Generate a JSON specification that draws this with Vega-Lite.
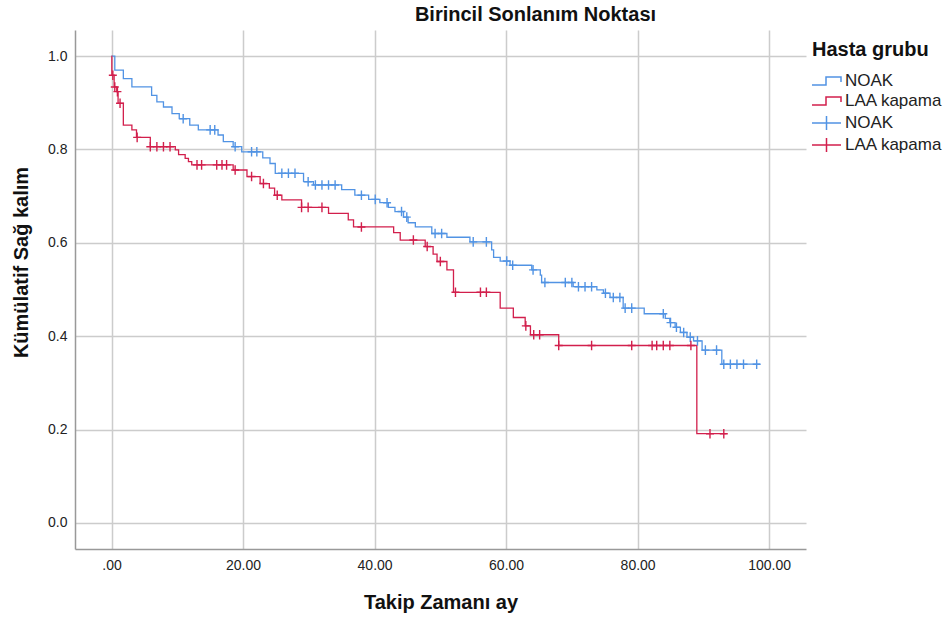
{
  "$schema": "https://vega.github.io/schema/vega-lite/v6.json",
  "width": 731,
  "height": 519,
  "autosize": {"type": "none"},
  "padding": {"left": 75, "top": 30, "right": 137, "bottom": 68},
  "config": {
    "font": "Liberation Sans",
    "view": {"stroke": null},
    "axis": {
      "gridColor": "#cccccc",
      "gridWidth": 1.5,
      "domainColor": "#999999",
      "domainWidth": 1.5,
      "tickSize": 0,
      "labelFontSize": 14,
      "labelColor": "#222222",
      "titleFontSize": 20,
      "titleFontWeight": "bold",
      "titleColor": "#111111"
    },
    "legend": {"padding": 0}
  },
  "title": {
    "text": "Birincil Sonlanım Noktası",
    "fontSize": 20,
    "fontWeight": "bold",
    "color": "#111111",
    "anchor": "middle",
    "dx": 95,
    "offset": 5
  },
  "datasets": {
    "steps": [
      {"g": "NOAK", "t": 0, "s": 1.0},
      {"g": "NOAK", "t": 0.5, "s": 0.970},
      {"g": "NOAK", "t": 1.8, "s": 0.952},
      {"g": "NOAK", "t": 3.1, "s": 0.934},
      {"g": "NOAK", "t": 6.1, "s": 0.916},
      {"g": "NOAK", "t": 6.9, "s": 0.902},
      {"g": "NOAK", "t": 7.9, "s": 0.891},
      {"g": "NOAK", "t": 9.2, "s": 0.877},
      {"g": "NOAK", "t": 10.3, "s": 0.866},
      {"g": "NOAK", "t": 11.9, "s": 0.852},
      {"g": "NOAK", "t": 13.2, "s": 0.842},
      {"g": "NOAK", "t": 16.2, "s": 0.831},
      {"g": "NOAK", "t": 17.0, "s": 0.817},
      {"g": "NOAK", "t": 18.5, "s": 0.806},
      {"g": "NOAK", "t": 19.8, "s": 0.795},
      {"g": "NOAK", "t": 23.0, "s": 0.782},
      {"g": "NOAK", "t": 24.1, "s": 0.770},
      {"g": "NOAK", "t": 24.9, "s": 0.749},
      {"g": "NOAK", "t": 29.2, "s": 0.731},
      {"g": "NOAK", "t": 30.7, "s": 0.724},
      {"g": "NOAK", "t": 35.0, "s": 0.714},
      {"g": "NOAK", "t": 37.0, "s": 0.702},
      {"g": "NOAK", "t": 39.1, "s": 0.693},
      {"g": "NOAK", "t": 40.8, "s": 0.686},
      {"g": "NOAK", "t": 42.1, "s": 0.676},
      {"g": "NOAK", "t": 43.1, "s": 0.667},
      {"g": "NOAK", "t": 44.4, "s": 0.655},
      {"g": "NOAK", "t": 45.1, "s": 0.643},
      {"g": "NOAK", "t": 46.2, "s": 0.634},
      {"g": "NOAK", "t": 48.7, "s": 0.620},
      {"g": "NOAK", "t": 51.0, "s": 0.612},
      {"g": "NOAK", "t": 54.5, "s": 0.602},
      {"g": "NOAK", "t": 57.8, "s": 0.585},
      {"g": "NOAK", "t": 58.1, "s": 0.569},
      {"g": "NOAK", "t": 59.1, "s": 0.561},
      {"g": "NOAK", "t": 60.6, "s": 0.552},
      {"g": "NOAK", "t": 63.9, "s": 0.542},
      {"g": "NOAK", "t": 65.2, "s": 0.531},
      {"g": "NOAK", "t": 65.4, "s": 0.515},
      {"g": "NOAK", "t": 70.2, "s": 0.506},
      {"g": "NOAK", "t": 73.8, "s": 0.499},
      {"g": "NOAK", "t": 74.8, "s": 0.492},
      {"g": "NOAK", "t": 75.8, "s": 0.483},
      {"g": "NOAK", "t": 77.8, "s": 0.460},
      {"g": "NOAK", "t": 81.0, "s": 0.448},
      {"g": "NOAK", "t": 84.2, "s": 0.438},
      {"g": "NOAK", "t": 84.9, "s": 0.429},
      {"g": "NOAK", "t": 85.7, "s": 0.419},
      {"g": "NOAK", "t": 86.5, "s": 0.408},
      {"g": "NOAK", "t": 87.5, "s": 0.398},
      {"g": "NOAK", "t": 88.5, "s": 0.390},
      {"g": "NOAK", "t": 89.8, "s": 0.370},
      {"g": "NOAK", "t": 92.8, "s": 0.340},
      {"g": "NOAK", "t": 98.6, "s": 0.340},
      {"g": "LAA kapama", "t": 0, "s": 1.0},
      {"g": "LAA kapama", "t": 0.05, "s": 0.959},
      {"g": "LAA kapama", "t": 0.4, "s": 0.934},
      {"g": "LAA kapama", "t": 0.8, "s": 0.924},
      {"g": "LAA kapama", "t": 1.0, "s": 0.899},
      {"g": "LAA kapama", "t": 1.8, "s": 0.852},
      {"g": "LAA kapama", "t": 3.1, "s": 0.842},
      {"g": "LAA kapama", "t": 3.8, "s": 0.826},
      {"g": "LAA kapama", "t": 5.9, "s": 0.806},
      {"g": "LAA kapama", "t": 9.7, "s": 0.799},
      {"g": "LAA kapama", "t": 10.2, "s": 0.789},
      {"g": "LAA kapama", "t": 11.2, "s": 0.781},
      {"g": "LAA kapama", "t": 11.7, "s": 0.774},
      {"g": "LAA kapama", "t": 12.2, "s": 0.767},
      {"g": "LAA kapama", "t": 18.5, "s": 0.756},
      {"g": "LAA kapama", "t": 20.6, "s": 0.742},
      {"g": "LAA kapama", "t": 22.6, "s": 0.727},
      {"g": "LAA kapama", "t": 24.0, "s": 0.717},
      {"g": "LAA kapama", "t": 24.8, "s": 0.702},
      {"g": "LAA kapama", "t": 25.9, "s": 0.692},
      {"g": "LAA kapama", "t": 28.9, "s": 0.676},
      {"g": "LAA kapama", "t": 33.0, "s": 0.663},
      {"g": "LAA kapama", "t": 36.0, "s": 0.649},
      {"g": "LAA kapama", "t": 36.8, "s": 0.634},
      {"g": "LAA kapama", "t": 42.9, "s": 0.622},
      {"g": "LAA kapama", "t": 43.9, "s": 0.606},
      {"g": "LAA kapama", "t": 47.7, "s": 0.592},
      {"g": "LAA kapama", "t": 48.9, "s": 0.576},
      {"g": "LAA kapama", "t": 49.5, "s": 0.560},
      {"g": "LAA kapama", "t": 51.0, "s": 0.542},
      {"g": "LAA kapama", "t": 52.0, "s": 0.494},
      {"g": "LAA kapama", "t": 59.1, "s": 0.460},
      {"g": "LAA kapama", "t": 61.1, "s": 0.440},
      {"g": "LAA kapama", "t": 62.9, "s": 0.422},
      {"g": "LAA kapama", "t": 63.7, "s": 0.403},
      {"g": "LAA kapama", "t": 68.0, "s": 0.380},
      {"g": "LAA kapama", "t": 89.0, "s": 0.191},
      {"g": "LAA kapama", "t": 93.5, "s": 0.191}
    ],
    "cens": [
      {"g": "NOAK", "t": 10.9, "s": 0.866},
      {"g": "NOAK", "t": 15.0, "s": 0.842},
      {"g": "NOAK", "t": 15.7, "s": 0.842},
      {"g": "NOAK", "t": 18.8, "s": 0.806},
      {"g": "NOAK", "t": 21.3, "s": 0.795},
      {"g": "NOAK", "t": 22.1, "s": 0.795},
      {"g": "NOAK", "t": 25.9, "s": 0.749},
      {"g": "NOAK", "t": 26.9, "s": 0.749},
      {"g": "NOAK", "t": 27.9, "s": 0.749},
      {"g": "NOAK", "t": 29.9, "s": 0.731},
      {"g": "NOAK", "t": 31.0, "s": 0.724},
      {"g": "NOAK", "t": 32.0, "s": 0.724},
      {"g": "NOAK", "t": 33.0, "s": 0.724},
      {"g": "NOAK", "t": 34.0, "s": 0.724},
      {"g": "NOAK", "t": 38.0, "s": 0.702},
      {"g": "NOAK", "t": 40.1, "s": 0.693},
      {"g": "NOAK", "t": 41.9, "s": 0.686},
      {"g": "NOAK", "t": 44.1, "s": 0.667},
      {"g": "NOAK", "t": 44.9, "s": 0.655},
      {"g": "NOAK", "t": 49.2, "s": 0.620},
      {"g": "NOAK", "t": 50.2, "s": 0.620},
      {"g": "NOAK", "t": 55.0, "s": 0.602},
      {"g": "NOAK", "t": 57.0, "s": 0.602},
      {"g": "NOAK", "t": 60.1, "s": 0.561},
      {"g": "NOAK", "t": 61.0, "s": 0.552},
      {"g": "NOAK", "t": 64.1, "s": 0.542},
      {"g": "NOAK", "t": 65.9, "s": 0.515},
      {"g": "NOAK", "t": 69.0, "s": 0.515},
      {"g": "NOAK", "t": 70.0, "s": 0.515},
      {"g": "NOAK", "t": 71.0, "s": 0.506},
      {"g": "NOAK", "t": 72.0, "s": 0.506},
      {"g": "NOAK", "t": 73.0, "s": 0.506},
      {"g": "NOAK", "t": 75.1, "s": 0.492},
      {"g": "NOAK", "t": 76.3, "s": 0.483},
      {"g": "NOAK", "t": 77.3, "s": 0.483},
      {"g": "NOAK", "t": 78.1, "s": 0.460},
      {"g": "NOAK", "t": 79.1, "s": 0.460},
      {"g": "NOAK", "t": 83.9, "s": 0.448},
      {"g": "NOAK", "t": 85.0, "s": 0.429},
      {"g": "NOAK", "t": 85.9, "s": 0.419},
      {"g": "NOAK", "t": 87.0, "s": 0.408},
      {"g": "NOAK", "t": 88.0, "s": 0.398},
      {"g": "NOAK", "t": 89.1, "s": 0.390},
      {"g": "NOAK", "t": 90.3, "s": 0.370},
      {"g": "NOAK", "t": 92.0, "s": 0.370},
      {"g": "NOAK", "t": 93.1, "s": 0.340},
      {"g": "NOAK", "t": 94.1, "s": 0.340},
      {"g": "NOAK", "t": 95.1, "s": 0.340},
      {"g": "NOAK", "t": 96.1, "s": 0.340},
      {"g": "NOAK", "t": 98.1, "s": 0.340},
      {"g": "LAA kapama", "t": 0.2, "s": 0.959},
      {"g": "LAA kapama", "t": 0.5, "s": 0.934},
      {"g": "LAA kapama", "t": 0.9, "s": 0.924},
      {"g": "LAA kapama", "t": 1.3, "s": 0.899},
      {"g": "LAA kapama", "t": 3.9, "s": 0.826},
      {"g": "LAA kapama", "t": 5.9, "s": 0.806},
      {"g": "LAA kapama", "t": 6.9, "s": 0.806},
      {"g": "LAA kapama", "t": 7.9, "s": 0.806},
      {"g": "LAA kapama", "t": 8.9, "s": 0.806},
      {"g": "LAA kapama", "t": 13.0, "s": 0.767},
      {"g": "LAA kapama", "t": 13.7, "s": 0.767},
      {"g": "LAA kapama", "t": 16.0, "s": 0.767},
      {"g": "LAA kapama", "t": 16.8, "s": 0.767},
      {"g": "LAA kapama", "t": 17.5, "s": 0.767},
      {"g": "LAA kapama", "t": 18.8, "s": 0.756},
      {"g": "LAA kapama", "t": 21.3, "s": 0.742},
      {"g": "LAA kapama", "t": 23.1, "s": 0.727},
      {"g": "LAA kapama", "t": 25.2, "s": 0.702},
      {"g": "LAA kapama", "t": 28.9, "s": 0.676},
      {"g": "LAA kapama", "t": 29.9, "s": 0.676},
      {"g": "LAA kapama", "t": 32.0, "s": 0.676},
      {"g": "LAA kapama", "t": 38.0, "s": 0.634},
      {"g": "LAA kapama", "t": 45.9, "s": 0.606},
      {"g": "LAA kapama", "t": 48.0, "s": 0.592},
      {"g": "LAA kapama", "t": 50.0, "s": 0.560},
      {"g": "LAA kapama", "t": 52.3, "s": 0.494},
      {"g": "LAA kapama", "t": 56.1, "s": 0.494},
      {"g": "LAA kapama", "t": 57.0, "s": 0.494},
      {"g": "LAA kapama", "t": 63.0, "s": 0.422},
      {"g": "LAA kapama", "t": 64.2, "s": 0.403},
      {"g": "LAA kapama", "t": 65.1, "s": 0.403},
      {"g": "LAA kapama", "t": 68.0, "s": 0.380},
      {"g": "LAA kapama", "t": 73.0, "s": 0.380},
      {"g": "LAA kapama", "t": 79.1, "s": 0.380},
      {"g": "LAA kapama", "t": 82.2, "s": 0.380},
      {"g": "LAA kapama", "t": 82.9, "s": 0.380},
      {"g": "LAA kapama", "t": 83.9, "s": 0.380},
      {"g": "LAA kapama", "t": 84.9, "s": 0.380},
      {"g": "LAA kapama", "t": 88.1, "s": 0.380},
      {"g": "LAA kapama", "t": 91.0, "s": 0.191},
      {"g": "LAA kapama", "t": 93.1, "s": 0.191}
    ]
  },
  "encoding": {
    "x": {
      "field": "t",
      "type": "quantitative",
      "scale": {"domain": [-5.55, 105.6], "nice": false, "zero": false},
      "axis": {
        "title": "Takip Zamanı ay",
        "values": [0, 20, 40, 60, 80, 100],
        "labelExpr": "datum.value == 0 ? '.00' : format(datum.value, '.2f')",
        "labelPadding": 9,
        "titlePadding": 20
      }
    },
    "y": {
      "field": "s",
      "type": "quantitative",
      "scale": {"domain": [-0.056, 1.056], "nice": false, "zero": false},
      "axis": {
        "title": "Kümülatif Sağ kalım",
        "values": [0, 0.2, 0.4, 0.6, 0.8, 1.0],
        "format": ".1f",
        "labelPadding": 8,
        "titlePadding": 16,
        "titleY": 232
      }
    }
  },
  "layer": [
    {
      "data": {"name": "steps"},
      "mark": {"type": "line", "interpolate": "step-after", "strokeWidth": 1.3},
      "encoding": {
        "color": {
          "field": "g",
          "type": "nominal",
          "scale": {"domain": ["NOAK", "LAA kapama"], "range": ["#5193e4", "#d21f4c"]},
          "legend": {
            "title": "Hasta grubu",
            "orient": "none",
            "legendX": 737,
            "legendY": 10,
            "titleFontSize": 20,
            "titleFontWeight": "bold",
            "titleColor": "#111111",
            "titlePadding": 10,
            "labelFontSize": 17,
            "labelColor": "#222222",
            "labelOffset": 11,
            "rowPadding": 1,
            "symbolSize": 400,
            "symbolType": "M-1.1,0.4H0.3V-0.4H1.8V0.1",
            "symbolStrokeWidth": 1.5,
            "symbolFillColor": "transparent"
          }
        }
      }
    },
    {
      "data": {"name": "cens"},
      "mark": {"type": "point", "shape": "M-1,0H1M0,-1.2V1.2", "size": 64, "filled": false, "strokeWidth": 1.4, "opacity": 1},
      "encoding": {
        "color": {
          "field": "g",
          "type": "nominal",
          "scale": {"domain": ["NOAK", "LAA kapama"], "range": ["#5193e4", "#d21f4c"]},
          "legend": {
            "title": null,
            "orient": "none",
            "legendX": 737,
            "legendY": 82,
            "labelFontSize": 17,
            "labelColor": "#222222",
            "labelOffset": 11,
            "rowPadding": 1,
            "symbolSize": 400,
            "symbolType": "M-1.1,0H1.8M0.35,-0.7V0.7",
            "symbolStrokeWidth": 1.5,
            "symbolFillColor": "transparent",
            "symbolOpacity": 1
          }
        }
      }
    }
  ],
  "resolve": {"scale": {"color": "independent"}}
}
